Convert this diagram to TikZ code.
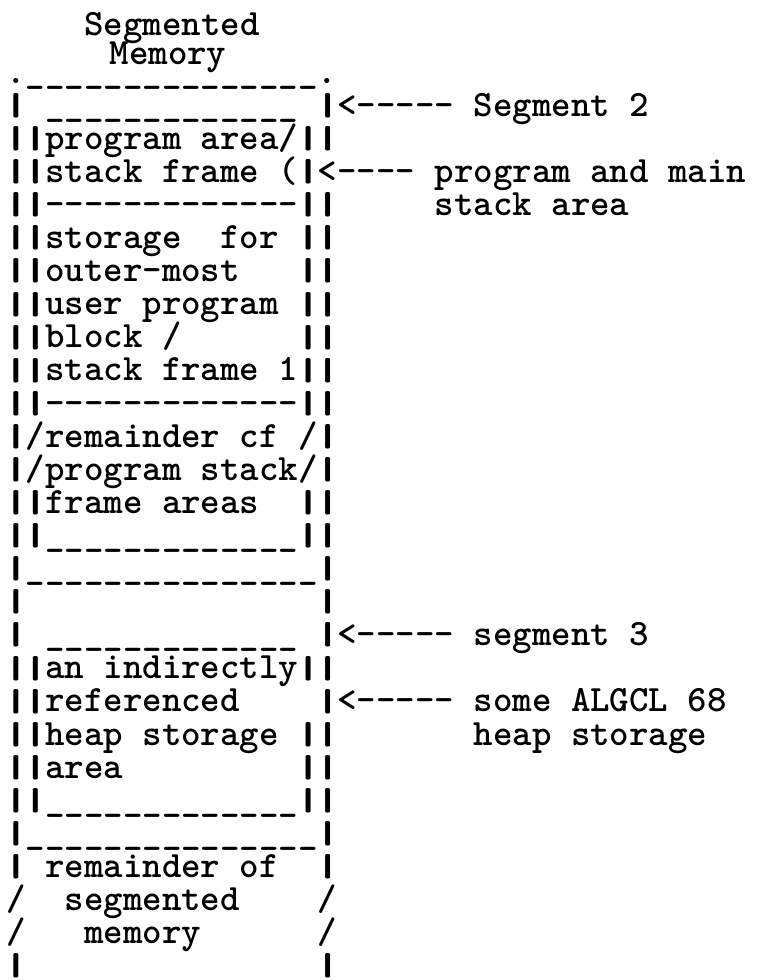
\documentclass[tikz,border=0pt]{standalone}
\usepackage{fontspec}
\usepackage{tikz}
\ExplSyntaxOn
\cs_new:Npn \wdh #1#2 { \prg_replicate:nn {#1} {#2} }
\ExplSyntaxOff
\newcommand\us[1]{\wdh{#1}{\_}}
\newcommand\lz[1]{\wdh{#1}{~}}
\newcommand\strich[1]{\wdh{#1}{-\kern0pt}}
\newcommand\vs{\makebox[0.525em]{\raisebox{0.02em}{\scalebox{1.6}[0.86]{|}}}}
\newcommand\pfeil[1]{<\strich{#1}}
\tikzset{
  zeile/.style={anchor=base west,inner sep=0pt,outer sep=0pt,
    text height=24pt,text depth=8pt,
    font=\fontsize{37.1}{33.1}\selectfont\ttfamily\bfseries},
  titel/.style={zeile,text height=23pt,text depth=4pt},
}

\begin{document}
\begin{tikzpicture}[x=19.5pt,y=-33.1pt]
  \useasboundingbox (0,0) rectangle (39.59,29.61);
  \begin{scope}[shift={(0.32,2.51)}]
  % Titel
  \node[titel] (t1) at (4,-1.45) {Segmented};
  \node[titel] (t2) at (5.3,-0.55) {Memory};
  % Segment 2
  \node[zeile] (b0) at (0,0) {.\us{15}.};
  \node[zeile] (b1) at (0,1) {\vs~\us{13}~\vs};
  \node[zeile] (l1) at (b1.base east) {\pfeil{5}~Segment~2};
  \node[zeile] (b2) at (0,2) {\vs\vs program~area/\vs\vs};
  \node[zeile] (b3) at (0,3) {\vs\vs stack~frame~(\vs};
  \node[zeile] (l3) at (b3.base east) {\pfeil{4}~program~and~main};
  \node[zeile] (b4) at (0,4) {\vs\vs\strich{13}\vs\vs};
  \node[zeile] (l4) at (b4.base east) {\lz{5}stack~area};
  \node[zeile] (b5) at (0,5) {\vs\vs storage~~for~\vs\vs};
  \node[zeile] (b6) at (0,6) {\vs\vs outer-most\lz{3}\vs\vs};
  \node[zeile] (b7) at (0,7) {\vs\vs user~program~\vs\vs};
  \node[zeile] (b8) at (0,8) {\vs\vs block~/\lz{6}\vs\vs};
  \node[zeile] (b9) at (0,9) {\vs\vs stack~frame~1\vs\vs};
  \node[zeile] (b10) at (0,10) {\vs\vs\strich{13}\vs\vs};
  \node[zeile] (b11) at (0,11) {\vs/remainder~cf~/\vs};
  \node[zeile] (b12) at (0,12) {\vs/program~stack/\vs};
  \node[zeile] (b13) at (0,13) {\vs\vs frame~areas~~\vs\vs};
  \node[zeile] (b14) at (0,14) {\vs\vs\us{13}\vs\vs};
  \node[zeile] (b15) at (0,15) {\vs\us{15}\vs};
  % Segment 3
  \node[zeile] (b16) at (0,16) {\vs\lz{15}\vs};
  \node[zeile] (b17) at (0,17) {\vs~\us{13}~\vs};
  \node[zeile] (l17) at (b17.base east) {\pfeil{5}~segment~3};
  \node[zeile] (b18) at (0,18) {\vs\vs an~indirectly\vs\vs};
  \node[zeile] (b19) at (0,19) {\vs\vs referenced\lz{4}\vs};
  \node[zeile] (l19) at (b19.base east) {\pfeil{5}~some~ALGCL~68};
  \node[zeile] (b20) at (0,20) {\vs\vs heap~storage~\vs\vs};
  \node[zeile] (l20) at (b20.base east) {\lz{7}heap~storage};
  \node[zeile] (b21) at (0,21) {\vs\vs area\lz{9}\vs\vs};
  \node[zeile] (b22) at (0,22) {\vs\vs\us{13}\vs\vs};
  \node[zeile] (b23) at (0,23) {\vs\us{15}\vs};
  % Rest
  \node[zeile] (b24) at (0,24) {\vs~remainder~of~~\vs};
  \node[zeile] (b25) at (0,25) {/~~segmented\lz{4}/};
  \node[zeile] (b26) at (0,26) {/\lz{3}memory\lz{6}/};
  \node[zeile] (b27) at (0,27) {\vs\lz{15}\vs};
  \end{scope}
\end{tikzpicture}
\end{document}
